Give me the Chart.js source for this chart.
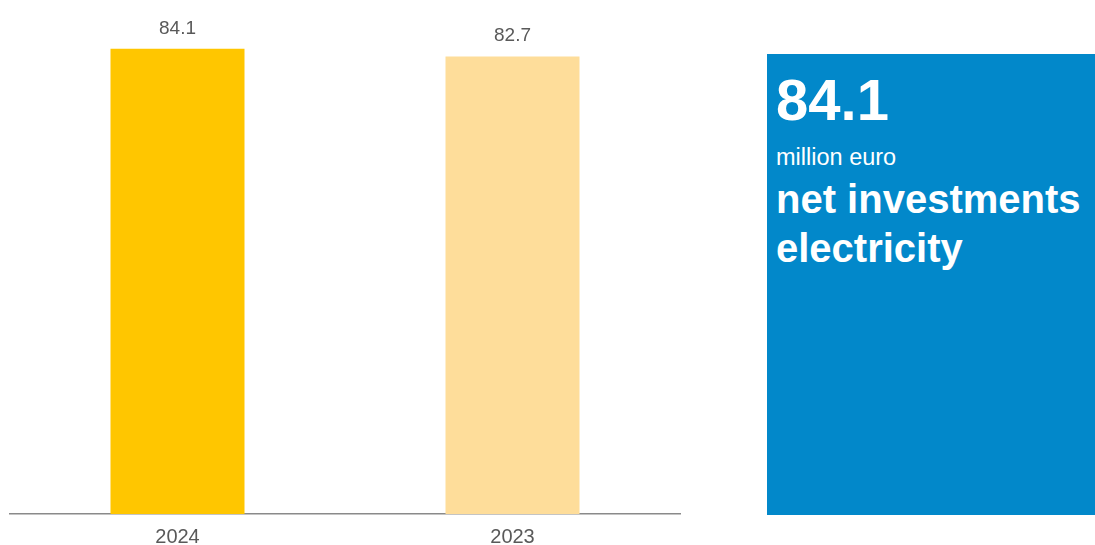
<!DOCTYPE html>
<html>
<head>
<meta charset="utf-8">
<script src="https://cdn.jsdelivr.net/npm/chart.js@4"></script>
<style>
  html, body { margin: 0; padding: 0; background: #fff; }
  body { width: 1095px; height: 545px; position: relative; overflow: hidden; font-family: "Liberation Sans", Arial, sans-serif; }
  #chartBox { position: absolute; left: 0; top: 0; width: 690px; height: 545px; }
  #panel { position: absolute; left: 767px; top: 54px; width: 328px; height: 461px; background: #0288CA; color: #fff; }
  #panel div { position: absolute; left: 9px; white-space: nowrap; }
  #bigValue { font-size: 58px; font-weight: bold; line-height: 58px; top: 17px; }
  #unit { font-size: 23.5px; line-height: 23.5px; top: 92px; }
  #title1 { font-size: 40px; font-weight: bold; line-height: 40px; top: 125px; }
  #title2 { font-size: 40px; font-weight: bold; line-height: 40px; top: 174px; }
</style>
</head>
<body>
<div id="chartBox"><canvas id="chart" width="690" height="545"></canvas></div>
<div id="panel">
  <div id="bigValue"></div>
  <div id="unit">million euro</div>
  <div id="title1">net investments</div>
  <div id="title2">electricity</div>
</div>
<script>
// years and net investments (million euro)
const years = ["2024", "2023"];
const investments = [84.1, 82.7];
const barColors = ["#FFC600", "#FEDD9A"];

// value printed above each bar
const valueLabels = {
    id: "valueLabels",
    afterDatasetsDraw(chart) {
        const ctx = chart.ctx;
        const meta = chart.getDatasetMeta(0);
        ctx.save();
        ctx.font = "19px 'Liberation Sans', Arial, sans-serif";
        ctx.fillStyle = "#595959";
        ctx.textAlign = "center";
        ctx.textBaseline = "alphabetic";
        meta.data.forEach((bar, i) => {
            ctx.fillText(investments[i].toFixed(1), bar.x, bar.y - 15);
        });
        ctx.restore();
    }
};

new Chart(document.getElementById("chart"), {
    type: "bar",
    data: {
        labels: years,
        datasets: [{
            data: investments,
            backgroundColor: barColors,
            borderWidth: 0,
            categoryPercentage: 1,
            barPercentage: 0.4
        }]
    },
    options: {
        responsive: false,
        animation: false,
        layout: { padding: { left: 10, right: 10, top: 16, bottom: 0 } },
        plugins: { legend: { display: false }, tooltip: { enabled: false } },
        scales: {
            x: {
                grid: { display: false, drawTicks: false },
                border: { display: true, color: "#8a8a8a", width: 1.5 },
                ticks: {
                    color: "#595959",
                    padding: 11,
                    font: { family: "'Liberation Sans', Arial, sans-serif", size: 20 }
                },
                afterFit(scale) { scale.height = 31; }
            },
            y: {
                display: false,
                min: 0,
                max: 90
            }
        }
    },
    plugins: [valueLabels]
});

document.getElementById("bigValue").innerText = investments[0].toFixed(1);
</script>
</body>
</html>
